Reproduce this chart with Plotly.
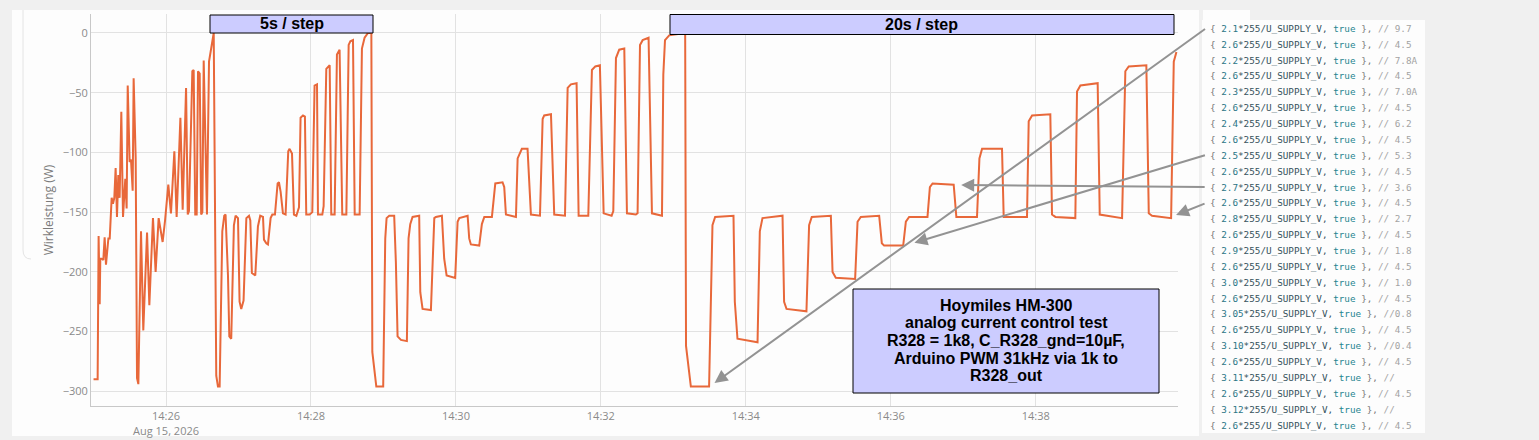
import pandas as pd
import plotly.graph_objects as go

T0 = pd.Timestamp("2026-08-15 14:25:00")

# ---- data: seconds after 14:25:00 and active power (W) ----
# start (irregular)
tA = [0, 3.4, 4.2, 5.1, 5.6, 6.7, 8.1, 9.2, 10.3, 12.3, 13.4, 15.0, 16.1, 17.2, 18.3,
      19.4, 20.5, 21.6, 23.0, 24.4, 26.3, 27.4, 28.3, 29.9, 31.0, 32.4, 33.2, 34.9, 36.0,
      37.1, 39.3, 41.2, 44.3, 46.2, 49.2, 51.4, 53.9, 57.2, 59.2, 61.9, 64.1, 66.9, 68.8,
      71.9, 73.8, 76.6, 78.0, 79.0, 81.8, 82.9, 84.2, 85.4, 86.5, 87.9, 89.1, 90.1, 91.2,
      93.9, 95.6, 98.4, 99.5]
vA = [-290, -290, -170, -227, -189, -189, -190, -171, -194, -172, -172, -138, -143, -138, -113,
      -154, -119, -138, -66, -154, -122, -147, -44, -108, -106, -132, -38, -105, -289,
      -294, -166, -249, -167, -228, -155, -200, -155, -175, -157, -127, -151, -99, -154,
      -71, -148, -46, -152, -149, -32, -31, -152, -152, -32, -34, -152, -150, -23,
      -152, -24, -7, 0]
# 5 s / step
tB = [101.6, 103.0, 104.4, 106.6, 108.2, 109.3, 111.3, 112.4, 114.0, 116.2, 117.6, 119.6,
      120.9, 122.3, 124.2, 126.5, 128.7, 129.8, 131.1, 133.9, 136.1, 138.0, 140.3, 141.1,
      143.0, 144.4, 146.6, 148.0, 150.2, 152.4, 153.5, 154.9, 156.8, 159.0, 161.2, 162.3,
      164.3, 165.9, 167.9, 170.1, 171.4, 173.4, 175.0, 176.1, 178.9, 181.1, 183.0, 185.0,
      185.8, 189.4, 190.5, 192.7, 195.5, 196.8, 199.6, 201.5, 203.7, 205.9, 209.3, 211.2,
      212.6, 214.8, 216.2, 220.3, 222.2, 224.4, 227.2, 230.0]
vB = [-287, -296, -296, -166, -153, -152, -203, -254, -256, -161, -153, -155,
      -225, -231, -224, -155, -153, -157, -201, -203, -162, -153, -154, -173,
      -176, -177, -155, -152, -152, -126, -125, -133, -151, -152, -99, -97,
      -101, -152, -153, -146, -71, -69, -70, -152, -152, -150, -44, -43,
      -152, -152, -145, -30, -27, -152, -152, -18, -14, -152, -152, -10,
      -7, -6, -152, -152, -13, -4, 0, 0]
# 10 s / step
tC = [230.8, 234.1, 239.8, 241.5, 242.6, 244.8, 248.9, 250.3, 251.7, 254.5, 259.4, 260.8,
      262.2, 264.1, 269.6, 270.5, 272.4, 279.3, 282.1, 283.4, 288.4, 290.3, 292.3, 299.4,
      301.4, 302.8, 309.7, 311.0, 312.4, 319.3, 321.5, 323.5, 329.8, 332.6, 338.6, 340.0,
      341.4, 345.5, 349.7, 351.1, 354.6, 359.3, 362.1, 369.6, 371.8, 373.1, 378.7, 381.4,
      390.3, 392.5, 395.2, 399.9, 401.6, 409.6, 412.6, 415.4, 419.2, 422.3, 428.9, 430.3,
      432.5, 435.2, 439.4, 441.6, 449.0, 450.4, 452.4, 454.6, 459.5, 462.3, 470.6, 471.7,
      473.1, 476.6, 489.8]
vC = [-267, -296, -296, -172, -155, -153, -153, -192, -254, -257, -258, -172,
      -160, -154, -153, -217, -231, -232, -155, -154, -153, -189, -203, -205,
      -158, -155, -153, -172, -177, -178, -160, -154, -154, -126, -125, -129,
      -152, -153, -154, -105, -97, -97, -152, -153, -72, -69, -68, -152,
      -153, -46, -43, -42, -153, -153, -31, -28, -27, -151, -153, -149,
      -21, -14, -13, -151, -152, -151, -10, -6, -4, -151, -153, -35,
      -6, -2, 0]
# 20 s / step
tD = [490.5, 491.7, 494.5, 509.6, 511.0, 512.4, 514.6, 529.8, 530.9, 533.1, 549.7, 551.6,
      553.8, 570.4, 571.7, 573.7, 590.2, 592.4, 594.6, 610.4, 611.8, 614.5, 630.5, 632.5,
      635.2, 650.4, 652.6, 654.5, 670.3, 672.5, 675.2, 690.4, 692.4, 694.6, 712.1, 714.3,
      731.4, 733.4, 735.6, 752.1, 753.5, 772.8, 774.2, 777.0, 792.1, 793.5, 796.3, 812.8,
      814.2, 817.0, 831.3, 833.0, 851.5, 854.2, 857.0, 871.6, 873.6, 876.3, 892.1, 894.3,
      896.5]
vD = [-262, -272, -296, -296, -217, -161, -154, -153, -225, -256, -259, -166,
      -155, -153, -225, -231, -233, -161, -154, -153, -200, -205, -206, -158,
      -154, -153, -176, -178, -178, -158, -154, -154, -129, -126, -127, -154,
      -154, -105, -97, -97, -154, -154, -74, -69, -68, -152, -154, -155,
      -49, -44, -42, -152, -155, -32, -28, -27, -151, -153, -155, -24,
      -16]

# code listing shown at the right
code_factor = ["2.1", "2.6", "2.2", "2.6", "2.3", "2.6", "2.4", "2.6", "2.5", "2.6", "2.7", "2.6",
               "2.8", "2.6", "2.9", "2.6", "3.0", "2.6", "3.05", "2.6", "3.10", "2.6", "3.11",
               "2.6", "3.12", "2.6"]
code_comment = [" // 9.7", " // 4.5", " // 7.8A", " // 4.5", " // 7.0A", " // 4.5", " // 6.2",
                " // 4.5", " // 5.3", " // 4.5", " // 3.6", " // 4.5", " // 2.7", " // 4.5",
                " // 1.8", " // 4.5", " // 1.0", " // 4.5", " //0.8", " // 4.5", " //0.4",
                " // 4.5", " //", " // 4.5", " //", " // 4.5"]

t_all = tA + tB + tC + tD
v_all = vA + vB + vC + vD
times = T0 + pd.to_timedelta(t_all, unit="s")

W, H = 1539, 440
L, R, T, B = 91, 361, 14, 34
PW = W - L - R
PH = H - T - B


def px(x):
    return (x - L) / PW


def py(y):
    return (H - B - y) / PH


def ts(sec):
    return T0 + pd.Timedelta(seconds=sec)


fig = go.Figure()
fig.add_trace(go.Scatter(x=times, y=v_all, mode="lines",
                         line=dict(color="#e8683a", width=2), hoverinfo="skip",
                         showlegend=False))

shapes = []
# white card behind chart
shapes.append(dict(type="rect", xref="paper", yref="paper", x0=px(12), x1=px(1199),
                   y0=py(436), y1=py(10), fillcolor="#fdfdfd", line=dict(width=0), layer="below"))
# faint card border at left
shapes.append(dict(type="path", xref="paper", yref="paper",
                   path=f"M {px(23)},{py(10)} L {px(23)},{py(250)} Q {px(23)},{py(259)} {px(31)},{py(259)}",
                   line=dict(color="#e4e4e4", width=1), layer="below"))
# code panel
shapes.append(dict(type="rect", xref="paper", yref="paper", x0=px(1202), x1=px(1425),
                   y0=py(433), y1=py(20), fillcolor="#fdfdfd", line=dict(width=0), layer="below"))
shapes.append(dict(type="rect", xref="paper", yref="paper", x0=px(1203), x1=px(1250),
                   y0=py(20), y1=py(10), fillcolor="#fdfdfd", line=dict(width=0), layer="below"))
# label boxes
box = dict(type="rect", xref="paper", yref="paper", fillcolor="#ccccff",
           line=dict(color="#000000", width=1), layer="above")
shapes.append(dict(box, x0=px(210), x1=px(373), y0=py(33), y1=py(15)))
shapes.append(dict(box, x0=px(670), x1=px(1174), y0=py(34.5), y1=py(14.5)))
shapes.append(dict(box, x0=px(853), x1=px(1159), y0=py(393), y1=py(289)))

ann = []
bold = dict(family="Liberation Sans, Arial", size=16, color="#000000")
ann.append(dict(xref="paper", yref="paper", x=px(291.5), y=py(24), text="<b>5s / step</b>",
                showarrow=False, font=bold, xanchor="center", yanchor="middle"))
ann.append(dict(xref="paper", yref="paper", x=px(922), y=py(24.5), text="<b>20s / step</b>",
                showarrow=False, font=bold, xanchor="center", yanchor="middle"))
info_lines = ["Hoymiles HM-300", "analog current control test",
              "R328 = 1k8, C_R328_gnd=10µF,", "Arduino PWM 31kHz via 1k to", "R328_out"]
for i, s in enumerate(info_lines):
    ann.append(dict(xref="paper", yref="paper", x=px(1006), y=py(305 + 17.7 * i),
                    text=f"<b>{s}</b>", showarrow=False, font=bold,
                    xanchor="center", yanchor="middle"))

# code lines
for i, (f, c) in enumerate(zip(code_factor, code_comment)):
    txt = (f'<span style="color:#777777">{{ </span>'
           f'<span style="color:#2b7585">{f}</span>'
           f'<span style="color:#35525c">*255/U_SUPPLY_V, </span>'
           f'<span style="color:#1f8590">true</span>'
           f'<span style="color:#777777"> }},</span>'
           f'<span style="color:#a3a3a3">{c}</span>')
    ann.append(dict(xref="paper", yref="paper", x=px(1208), y=py(28.3 + 15.87 * i),
                    text=txt, showarrow=False, xanchor="left", yanchor="middle",
                    font=dict(family="DejaVu Sans Mono", size=9.3, color="#555555")))

# arrows from code lines to the curve
arrow = dict(xref="x", yref="y", text="", showarrow=True, arrowhead=2, arrowsize=1.3,
             arrowwidth=2, arrowcolor="#939393")
ann.append(dict(arrow, x=ts(514.1), y=-293, ax=492, ay=-355))
ann.append(dict(arrow, x=ts(679.6), y=-175.6, ax=292, ay=-88))
ann.append(dict(arrow, x=ts(718.3), y=-127.3, ax=245, ay=2))
ann.append(dict(arrow, x=ts(896.2), y=-152.4, ax=30, ay=-12))

tickfont = dict(family="Open Sans", size=11, color="#8a8a8a")
fig.update_layout(
    width=W, height=H,
    margin=dict(l=L, r=R, t=T, b=B),
    paper_bgcolor="#f0f0f0", plot_bgcolor="#fdfdfd",
    shapes=shapes, annotations=ann, showlegend=False,
    xaxis=dict(type="date", range=[ts(-2.1), ts(897.8)], dtick=120000,
               tick0="2026-08-15 14:26:00", showgrid=True, gridcolor="#e2e2e2",
               showline=True, linecolor="#c8c8c8", linewidth=1, ticks="",
               tickfont=tickfont, zeroline=False, automargin=False),
    yaxis=dict(range=[-312.3, 15.9], dtick=50, tick0=0, showgrid=True, gridcolor="#e2e2e2",
               showline=True, linecolor="#c8c8c8", linewidth=1, ticks="", zeroline=False,
               tickfont=tickfont, automargin=False,
               title=dict(text="Wirkleistung (W)", standoff=6,
                          font=dict(family="Open Sans", size=12, color="#7a7a7a"))),
)

fig.write_html("out.html", config={"displayModeBar": False},
               post_script="document.body.style.margin='0';document.body.style.overflow='hidden';")
